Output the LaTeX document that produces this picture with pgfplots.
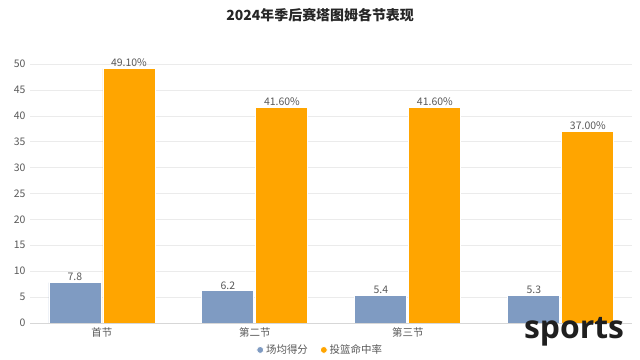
\documentclass[border=0pt]{standalone}
\usepackage{pgfplots}
\pgfplotsset{compat=1.18}
\usepackage{fontspec}
\setmainfont{Noto Sans CJK SC}
\newfontfamily\wm{Open Sans}
\definecolor{cblue}{RGB}{127,155,194}
\definecolor{corange}{RGB}{255,165,0}
\definecolor{ctext}{RGB}{89,89,89}
\definecolor{cgrid}{RGB}{235,235,235}
\definecolor{caxis}{RGB}{215,215,215}
\begin{document}
\begin{tikzpicture}
\useasboundingbox (0,0) rectangle (640bp,360bp);
\begin{axis}[
  at={(30bp,37bp)}, anchor=south west,
  scale only axis, width=602bp, height=259bp,
  xmin=-0.47, xmax=3.465, ymin=0, ymax=50,
  ytick={0,5,...,50},
  xtick={0,1,2,3},
  xticklabels={首节,第二节,第三节,{}},
  ymajorgrids, grid style={cgrid, line width=0.6bp},
  axis x line*=bottom, axis y line*=left,
  x axis line style={caxis, line width=0.8bp},
  y axis line style={draw=none},
  major tick length=0pt,
  tick label style={font=\fontsize{10.5}{12}\selectfont, text=ctext},
  yticklabel style={xshift=-1bp},
  xticklabel style={yshift=-1bp},
  /pgf/number format/assume math mode=true,
  ybar=2bp, bar width=52bp,
  every node near coord/.append style={font=\fontsize{10.5}{12}\selectfont, text=ctext, yshift=-2bp},
  legend style={draw=none, at={(0.482,-0.104)}, anchor=center, legend columns=2,
    font=\fontsize{10.5}{12}\selectfont, text=ctext,
    /tikz/every even column/.append style={column sep=10bp}},
  legend image code/.code={\fill[#1] (0.1cm,0cm) circle (3.5bp);},
  title={2024年季后赛塔图姆各节表现},
  title style={font=\fontsize{14}{16}\selectfont\bfseries, text=black!85, at={(0.482,1)}, yshift=43bp, anchor=center},
]
\addplot[fill=cblue, draw=white, line width=0.8bp,
  nodes near coords={\pgfmathprintnumber[fixed,fixed zerofill,precision=1]{\pgfplotspointmeta}}]
  coordinates {(0,7.8) (1,6.2) (2,5.4) (3,5.3)};
\addplot[fill=corange, draw=white, line width=0.8bp,
  nodes near coords={\pgfmathprintnumber[fixed,fixed zerofill,precision=2]{\pgfplotspointmeta}\%}]
  coordinates {(0,49.1) (1,41.6) (2,41.6) (3,37.0)};
\legend{场均得分,投篮命中率}
\end{axis}
\node[anchor=base, font=\wm\fontsize{32}{32}\selectfont\bfseries, text=black!88, inner sep=0pt] at (574bp,22bp) {sports};
\end{tikzpicture}
\end{document}
